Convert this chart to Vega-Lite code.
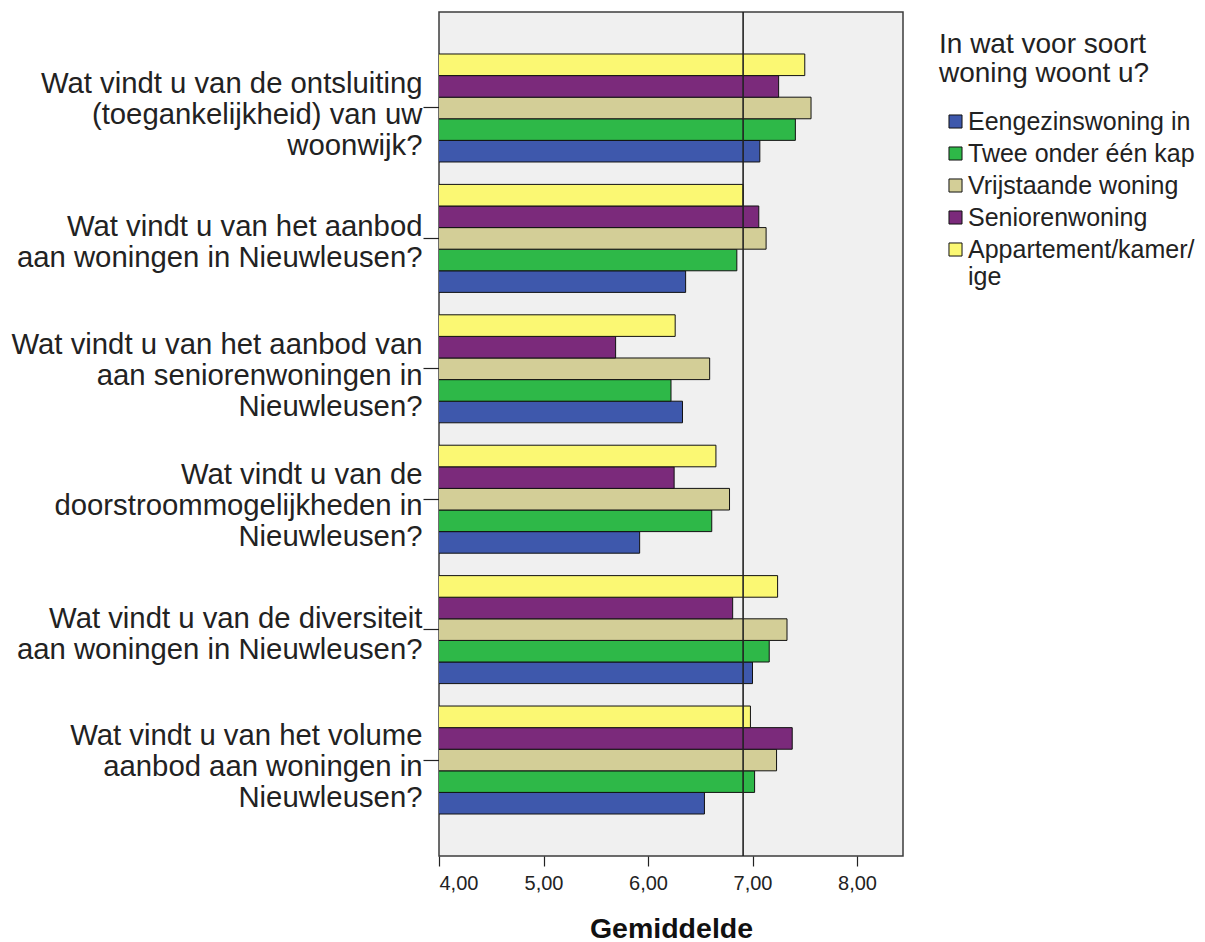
{
  "$schema": "https://vega.github.io/schema/vega-lite/v6.json",
  "autosize": "none",
  "width": 464,
  "height": 844,
  "padding": {"left": 439, "top": 12, "right": 302, "bottom": 86},
  "background": "white",
  "config": {
    "view": {"fill": "#f0f0f0", "stroke": "#3c3c3c", "strokeWidth": 1.5},
    "font": "Liberation Sans"
  },
  "datasets": {
    "means": [
      {"question": "Wat vindt u van de ontsluiting|(toegankelijkheid) van uw|woonwijk?", "type": "Eengezinswoning in", "mean": 7.07},
      {"question": "Wat vindt u van de ontsluiting|(toegankelijkheid) van uw|woonwijk?", "type": "Twee onder één kap", "mean": 7.41},
      {"question": "Wat vindt u van de ontsluiting|(toegankelijkheid) van uw|woonwijk?", "type": "Vrijstaande woning", "mean": 7.56},
      {"question": "Wat vindt u van de ontsluiting|(toegankelijkheid) van uw|woonwijk?", "type": "Seniorenwoning", "mean": 7.25},
      {"question": "Wat vindt u van de ontsluiting|(toegankelijkheid) van uw|woonwijk?", "type": "Appartement/kamer/ige", "mean": 7.5},
      {"question": "Wat vindt u van het aanbod|aan woningen in Nieuwleusen?", "type": "Eengezinswoning in", "mean": 6.36},
      {"question": "Wat vindt u van het aanbod|aan woningen in Nieuwleusen?", "type": "Twee onder één kap", "mean": 6.85},
      {"question": "Wat vindt u van het aanbod|aan woningen in Nieuwleusen?", "type": "Vrijstaande woning", "mean": 7.13},
      {"question": "Wat vindt u van het aanbod|aan woningen in Nieuwleusen?", "type": "Seniorenwoning", "mean": 7.06},
      {"question": "Wat vindt u van het aanbod|aan woningen in Nieuwleusen?", "type": "Appartement/kamer/ige", "mean": 6.91},
      {"question": "Wat vindt u van het aanbod van|aan seniorenwoningen in|Nieuwleusen?", "type": "Eengezinswoning in", "mean": 6.33},
      {"question": "Wat vindt u van het aanbod van|aan seniorenwoningen in|Nieuwleusen?", "type": "Twee onder één kap", "mean": 6.22},
      {"question": "Wat vindt u van het aanbod van|aan seniorenwoningen in|Nieuwleusen?", "type": "Vrijstaande woning", "mean": 6.59},
      {"question": "Wat vindt u van het aanbod van|aan seniorenwoningen in|Nieuwleusen?", "type": "Seniorenwoning", "mean": 5.69},
      {"question": "Wat vindt u van het aanbod van|aan seniorenwoningen in|Nieuwleusen?", "type": "Appartement/kamer/ige", "mean": 6.26},
      {"question": "Wat vindt u van de|doorstroommogelijkheden in|Nieuwleusen?", "type": "Eengezinswoning in", "mean": 5.92},
      {"question": "Wat vindt u van de|doorstroommogelijkheden in|Nieuwleusen?", "type": "Twee onder één kap", "mean": 6.61},
      {"question": "Wat vindt u van de|doorstroommogelijkheden in|Nieuwleusen?", "type": "Vrijstaande woning", "mean": 6.78},
      {"question": "Wat vindt u van de|doorstroommogelijkheden in|Nieuwleusen?", "type": "Seniorenwoning", "mean": 6.25},
      {"question": "Wat vindt u van de|doorstroommogelijkheden in|Nieuwleusen?", "type": "Appartement/kamer/ige", "mean": 6.65},
      {"question": "Wat vindt u van de diversiteit|aan woningen in Nieuwleusen?", "type": "Eengezinswoning in", "mean": 7.0},
      {"question": "Wat vindt u van de diversiteit|aan woningen in Nieuwleusen?", "type": "Twee onder één kap", "mean": 7.16},
      {"question": "Wat vindt u van de diversiteit|aan woningen in Nieuwleusen?", "type": "Vrijstaande woning", "mean": 7.33},
      {"question": "Wat vindt u van de diversiteit|aan woningen in Nieuwleusen?", "type": "Seniorenwoning", "mean": 6.81},
      {"question": "Wat vindt u van de diversiteit|aan woningen in Nieuwleusen?", "type": "Appartement/kamer/ige", "mean": 7.24},
      {"question": "Wat vindt u van het volume|aanbod aan woningen in|Nieuwleusen?", "type": "Eengezinswoning in", "mean": 6.54},
      {"question": "Wat vindt u van het volume|aanbod aan woningen in|Nieuwleusen?", "type": "Twee onder één kap", "mean": 7.02},
      {"question": "Wat vindt u van het volume|aanbod aan woningen in|Nieuwleusen?", "type": "Vrijstaande woning", "mean": 7.23},
      {"question": "Wat vindt u van het volume|aanbod aan woningen in|Nieuwleusen?", "type": "Seniorenwoning", "mean": 7.38},
      {"question": "Wat vindt u van het volume|aanbod aan woningen in|Nieuwleusen?", "type": "Appartement/kamer/ige", "mean": 6.98}
    ],
    "reference": [{"ref": 6.91}]
  },
  "layer": [
    {
      "data": {"name": "means"},
      "mark": {"type": "bar", "clip": true, "stroke": "#111", "strokeWidth": 1},
      "encoding": {
        "y": {
          "field": "question",
          "type": "nominal",
          "sort": null,
          "scale": {"paddingInner": 0.172, "paddingOuter": 0.322},
          "axis": {
            "title": null,
            "domain": false,
            "labelExpr": "split(datum.value, '|')",
            "labelFontSize": 29.3,
            "labelFont": "Liberation Sans",
            "labelColor": "#222",
            "labelLineHeight": 31,
            "labelAlign": "right",
            "labelBaseline": "middle",
            "labelLimit": 440,
            "labelPadding": 1,
            "labelOffset": {
              "condition": {"test": "length(split(datum.value, '|')) == 3", "value": -24},
              "value": -11
            },
            "tickSize": 16,
            "tickColor": "#222",
            "tickWidth": 1.2
          }
        },
        "yOffset": {
          "field": "type",
          "type": "nominal",
          "sort": ["Appartement/kamer/ige", "Seniorenwoning", "Vrijstaande woning", "Twee onder één kap", "Eengezinswoning in"],
          "scale": {"paddingInner": 0, "paddingOuter": 0}
        },
        "x": {
          "field": "mean",
          "type": "quantitative",
          "scale": {"domain": [4, 8.44], "nice": false, "zero": false},
          "axis": {
            "title": "Gemiddelde",
            "titleFontSize": 28.5,
            "titleFontWeight": "bold",
            "titleFont": "Liberation Sans",
            "titleColor": "#111",
            "titlePadding": 21,
            "values": [4, 5, 6, 7, 8],
            "labelExpr": "replace(format(datum.value, '.2f'), '.', ',')",
            "labelFontSize": 20,
            "labelColor": "#222",
            "labelPadding": 7,
            "tickSize": 10,
            "tickColor": "#222",
            "tickWidth": 1.2,
            "domain": false,
            "grid": false
          }
        },
        "color": {
          "field": "type",
          "type": "nominal",
          "scale": {
            "domain": ["Eengezinswoning in", "Twee onder één kap", "Vrijstaande woning", "Seniorenwoning", "Appartement/kamer/ige"],
            "range": ["#3e58ac", "#2eb848", "#d3ce97", "#7b2a7b", "#fbf873"]
          },
          "legend": {
            "orient": "none",
            "legendX": 500,
            "legendY": 19,
            "title": ["In wat voor soort", "woning woont u?"],
            "titleFontSize": 28,
            "titleFontWeight": "normal",
            "titleFont": "Liberation Sans",
            "titleColor": "#222",
            "titleLineHeight": 29,
            "titleLimit": 400,
            "titlePadding": 21,
            "symbolType": "square",
            "symbolSize": 170,
            "symbolStrokeColor": "#111",
            "symbolStrokeWidth": 1,
            "symbolOffset": 4,
            "labelExpr": "datum.label == 'Appartement/kamer/ige' ? ['Appartement/kamer/', 'ige'] : datum.label",
            "labelFontSize": 25,
            "labelFont": "Liberation Sans",
            "labelColor": "#222",
            "labelLineHeight": 23,
            "labelLimit": 300,
            "labelOffset": 0,
            "rowPadding": 6
          }
        }
      }
    },
    {
      "data": {"name": "reference"},
      "mark": {"type": "rule", "color": "#222", "strokeWidth": 1.6},
      "encoding": {
        "x": {"field": "ref", "type": "quantitative"}
      }
    }
  ]
}
